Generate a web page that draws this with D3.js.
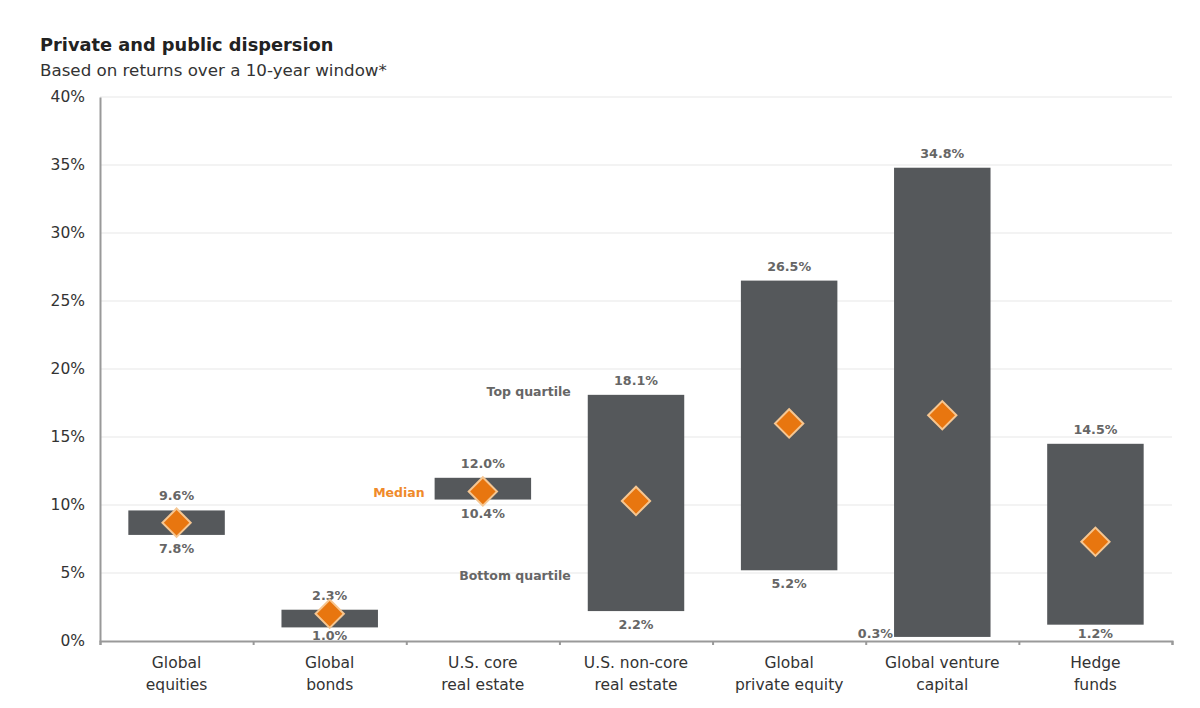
<!DOCTYPE html>
<html>
<head>
<meta charset="utf-8">
<script src="https://cdn.jsdelivr.net/npm/d3@7"></script>
<style>
  body { margin: 0; background: #fff; }
  text { font-family: "DejaVu Sans", Verdana, sans-serif; }
</style>
</head>
<body>
<div id="chart"></div>
<script>
var categories = [
  ["Global", "equities"],
  ["Global", "bonds"],
  ["U.S. core", "real estate"],
  ["U.S. non-core", "real estate"],
  ["Global", "private equity"],
  ["Global venture", "capital"],
  ["Hedge", "funds"]
];
var topQuartile = [9.6, 2.3, 12.0, 18.1, 26.5, 34.8, 14.5];
var bottomQuartile = [7.8, 1.0, 10.4, 2.2, 5.2, 0.3, 1.2];
var median = [8.7, 2.0, 11.0, 10.3, 16.0, 16.6, 7.3];
var yTicks = [0, 5, 10, 15, 20, 25, 30, 35, 40];

var svgWidth = 1200;
var svgHeight = 708;
var margin = { top: 97, right: 28, bottom: 67, left: 100 };
var width = svgWidth - margin.left - margin.right;
var height = svgHeight - margin.top - margin.bottom;

var svg = d3.select("#chart")
  .append("svg")
  .attr("width", svgWidth)
  .attr("height", svgHeight);

// title block
svg.append("text")
  .attr("x", 40).attr("y", 51)
  .style("font-size", "17.8px").style("font-weight", "bold")
  .attr("fill", "#222")
  .text("Private and public dispersion");
svg.append("text")
  .attr("x", 40).attr("y", 76)
  .style("font-size", "16.7px")
  .attr("fill", "#333")
  .text("Based on returns over a 10-year window*");

var chartGroup = svg.append("g")
  .attr("transform", `translate(${margin.left}, ${margin.top})`);

var data = categories.map(function(c, i) {
  return { cat: c, key: c.join(" "), top: topQuartile[i], bottom: bottomQuartile[i], median: median[i] };
});

var xBandScale = d3.scaleBand()
  .domain(data.map(d => d.key))
  .range([0, width])
  .paddingInner(0.37)
  .paddingOuter(0.185);

var yLinearScale = d3.scaleLinear()
  .domain([0, 40])
  .range([height, 0]);

// gridlines
chartGroup.append("g")
  .selectAll("line")
  .data(yTicks.filter(t => t > 0))
  .enter()
  .append("line")
  .attr("x1", 0).attr("x2", width)
  .attr("y1", d => yLinearScale(d)).attr("y2", d => yLinearScale(d))
  .attr("stroke", "#efefef")
  .attr("stroke-width", 1.5);

// y axis
var leftAxis = d3.axisLeft(yLinearScale)
  .tickValues(yTicks)
  .tickSize(0)
  .tickPadding(15)
  .tickFormat(d => d + "%");

var yAxis = chartGroup.append("g").call(leftAxis);
yAxis.select(".domain").attr("stroke", "#999").attr("stroke-width", 2);
yAxis.selectAll("text")
  .style("font-size", "15.5px")
  .style("font-family", "'DejaVu Sans', sans-serif")
  .attr("fill", "#333");

// bars
chartGroup.selectAll(".bar")
  .data(data)
  .enter()
  .append("rect")
  .attr("class", "bar")
  .attr("x", d => xBandScale(d.key))
  .attr("width", xBandScale.bandwidth())
  .attr("y", d => yLinearScale(d.top))
  .attr("height", d => yLinearScale(d.bottom) - yLinearScale(d.top))
  .attr("fill", "#55585b");

// x axis
var bottomAxis = d3.axisBottom(d3.scaleLinear().domain([0, categories.length]).range([0, width]))
  .ticks(categories.length)
  .tickSize(4)
  .tickFormat("");
var xAxis = chartGroup.append("g")
  .attr("transform", `translate(0, ${height})`)
  .call(bottomAxis);
xAxis.select(".domain").attr("stroke", "#999").attr("stroke-width", 2);
xAxis.selectAll(".tick line").attr("stroke", "#999").attr("stroke-width", 2);

// category labels
var catLabels = chartGroup.selectAll(".catLabel")
  .data(data)
  .enter()
  .append("text")
  .attr("class", "catLabel")
  .attr("x", d => xBandScale(d.key) + xBandScale.bandwidth() / 2)
  .attr("y", height + 27)
  .attr("text-anchor", "middle")
  .style("font-size", "15.5px")
  .attr("fill", "#333");
catLabels.append("tspan")
  .attr("x", d => xBandScale(d.key) + xBandScale.bandwidth() / 2)
  .text(d => d.cat[0]);
catLabels.append("tspan")
  .attr("x", d => xBandScale(d.key) + xBandScale.bandwidth() / 2)
  .attr("dy", 22)
  .text(d => d.cat[1]);

// top value labels
chartGroup.selectAll(".topLabel")
  .data(data)
  .enter()
  .append("text")
  .attr("x", d => xBandScale(d.key) + xBandScale.bandwidth() / 2)
  .attr("y", d => yLinearScale(d.top) - 10)
  .attr("text-anchor", "middle")
  .style("font-size", "12.7px").style("font-weight", "bold")
  .attr("fill", "#666")
  .text(d => d.top.toFixed(1) + "%");

// bottom value labels (venture capital label sits left of its bar)
chartGroup.selectAll(".bottomLabel")
  .data(data)
  .enter()
  .append("text")
  .attr("x", function(d, i) {
    return i === 5 ? xBandScale(d.key) - 1 : xBandScale(d.key) + xBandScale.bandwidth() / 2;
  })
  .attr("y", function(d, i) {
    if (i === 5) return yLinearScale(d.bottom) + 1;
    if (i === 1 || i === 6) return yLinearScale(d.bottom) + 13;
    return yLinearScale(d.bottom) + 18;
  })
  .attr("text-anchor", (d, i) => i === 5 ? "end" : "middle")
  .style("font-size", "12.7px").style("font-weight", "bold")
  .attr("fill", "#666")
  .text(d => d.bottom.toFixed(1) + "%");

// median diamonds
var diamond = d3.symbol().type(d3.symbolSquare).size(400);
chartGroup.selectAll(".median")
  .data(data)
  .enter()
  .append("path")
  .attr("d", diamond)
  .attr("transform", d => `translate(${xBandScale(d.key) + xBandScale.bandwidth() / 2}, ${yLinearScale(d.median)}) rotate(45)`)
  .attr("fill", "#e8760f")
  .attr("stroke", "#f6c691")
  .attr("stroke-width", 2);

// annotations
var nonCore = data[3];
var core = data[2];
chartGroup.append("text")
  .attr("x", xBandScale(nonCore.key) - 17)
  .attr("y", yLinearScale(18.4) + 5)
  .attr("text-anchor", "end")
  .style("font-size", "12.5px").style("font-weight", "bold")
  .attr("fill", "#666")
  .text("Top quartile");
chartGroup.append("text")
  .attr("x", xBandScale(nonCore.key) - 17)
  .attr("y", yLinearScale(4.85) + 5)
  .attr("text-anchor", "end")
  .style("font-size", "12.5px").style("font-weight", "bold")
  .attr("fill", "#666")
  .text("Bottom quartile");
chartGroup.append("text")
  .attr("x", xBandScale(core.key) - 10)
  .attr("y", yLinearScale(core.median) + 6)
  .attr("text-anchor", "end")
  .style("font-size", "12.5px").style("font-weight", "bold")
  .attr("fill", "#ef8a2a")
  .text("Median");
</script>
</body>
</html>
